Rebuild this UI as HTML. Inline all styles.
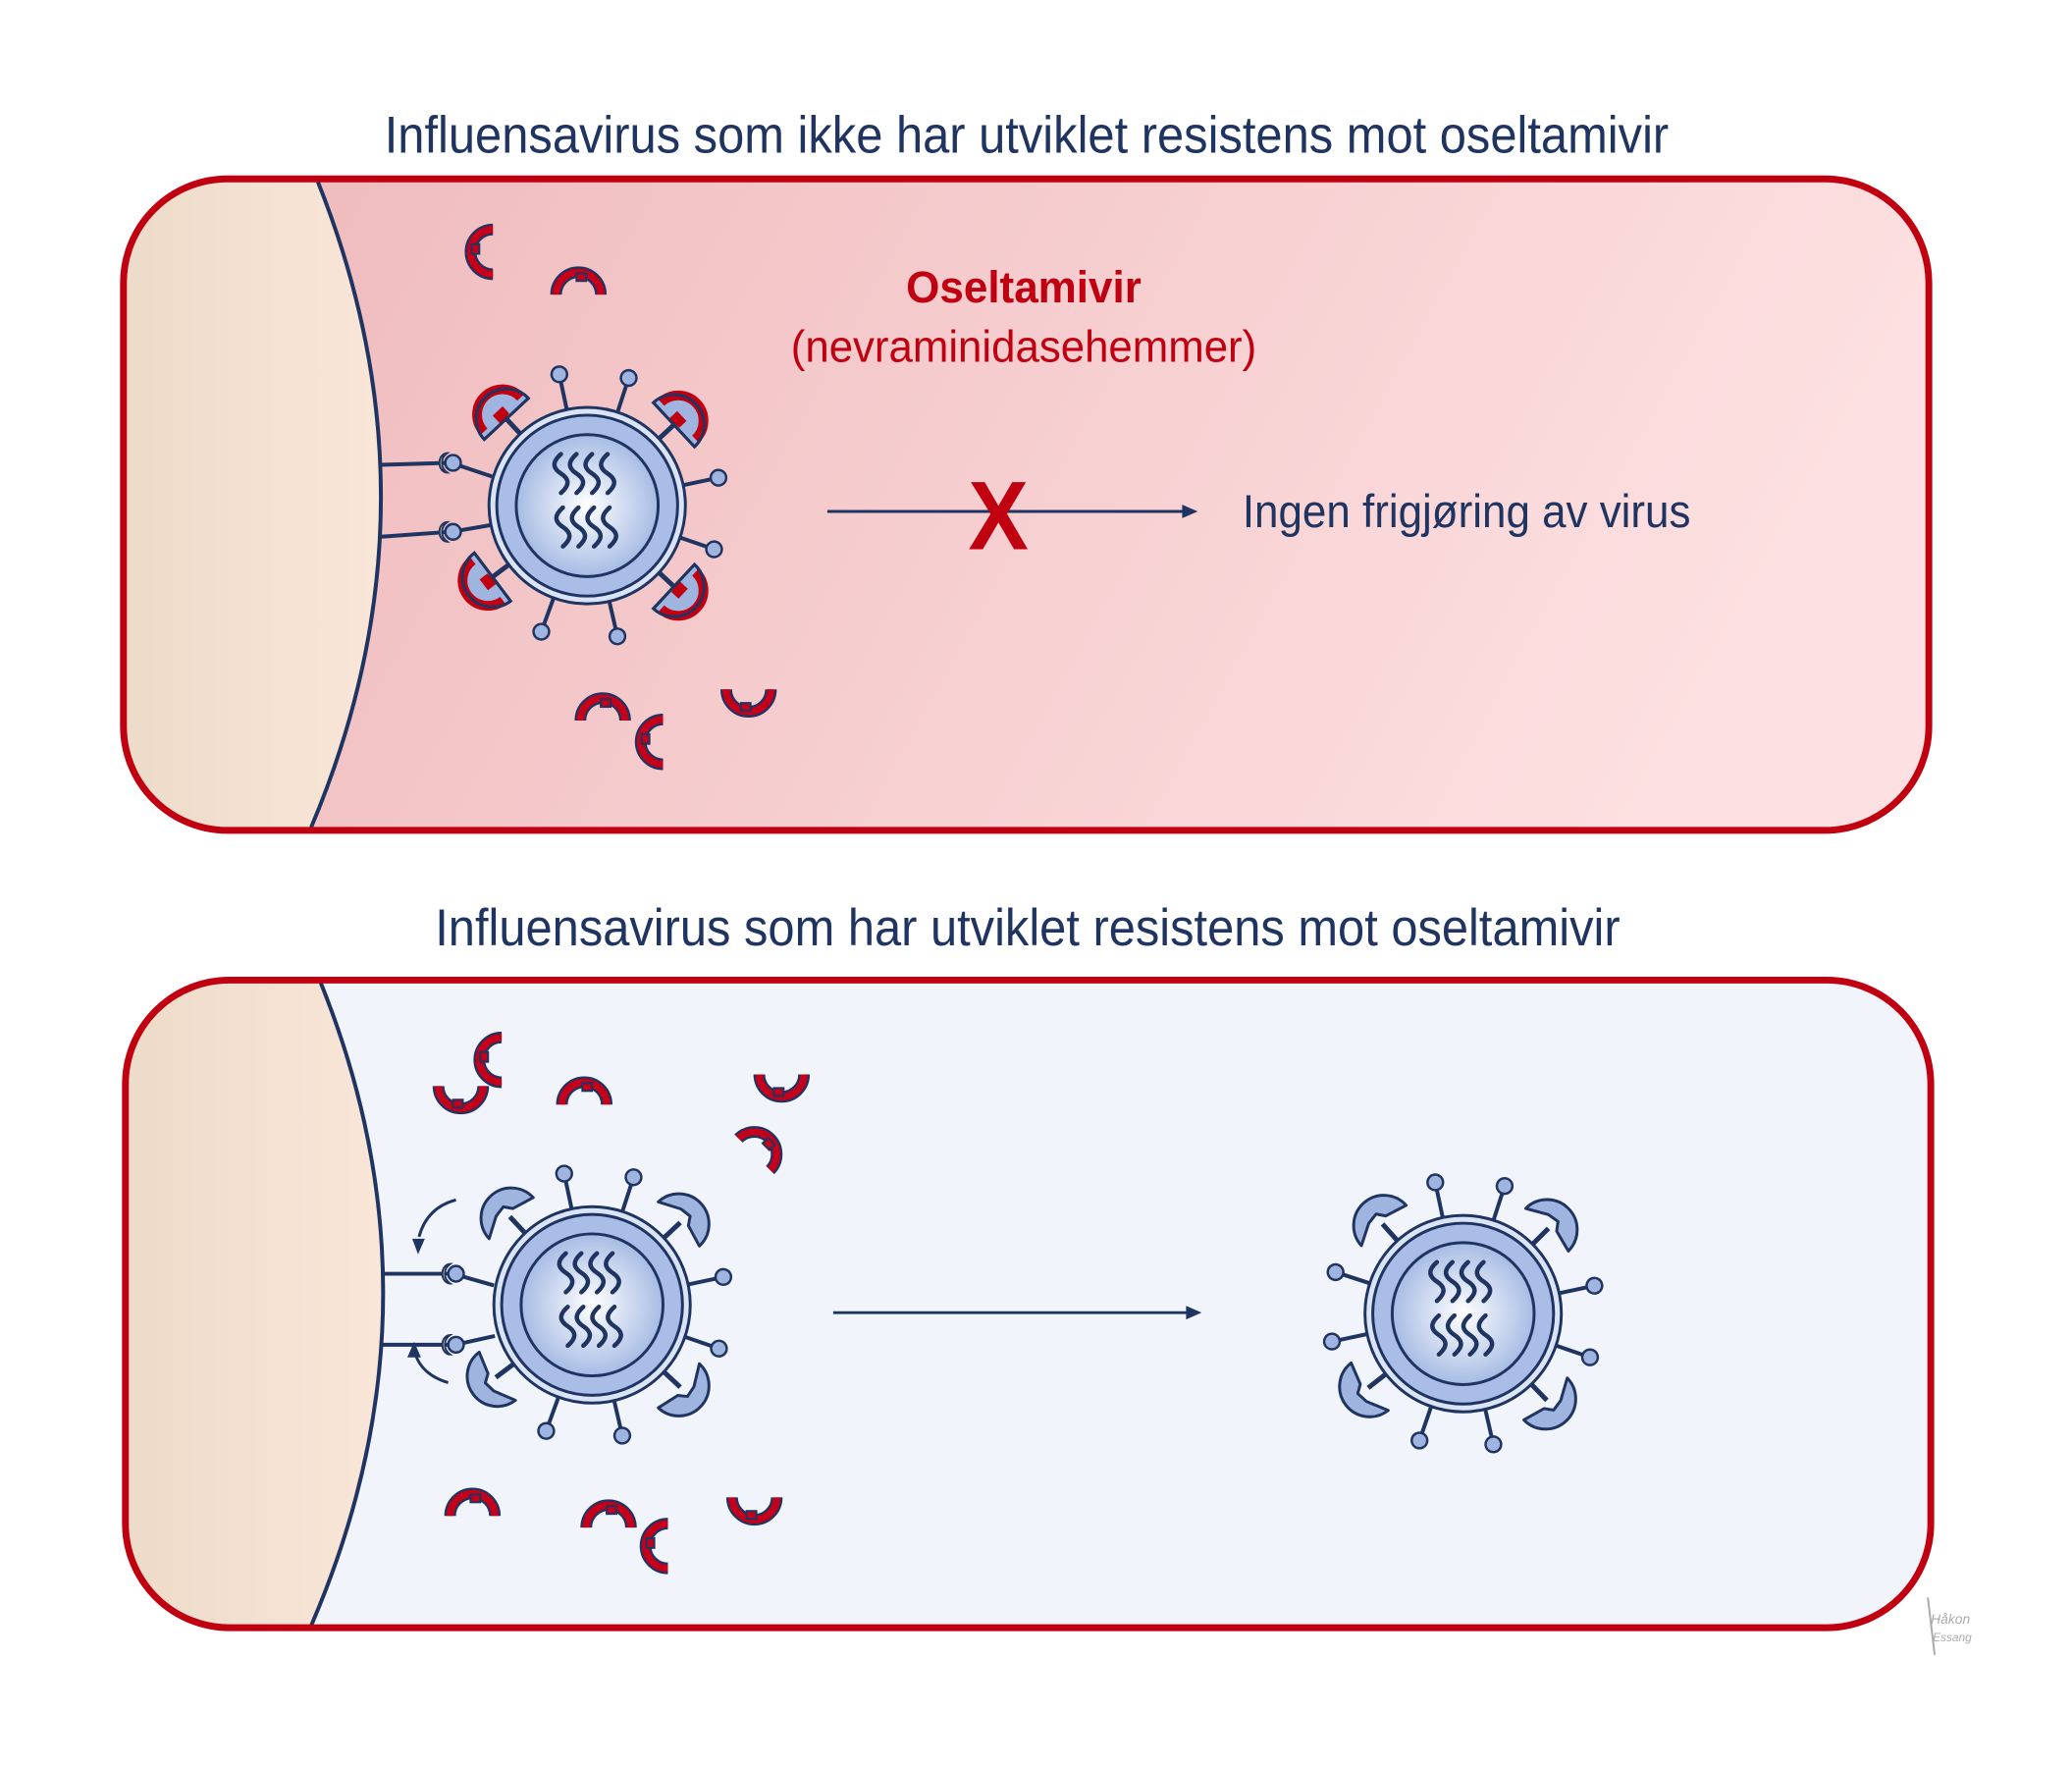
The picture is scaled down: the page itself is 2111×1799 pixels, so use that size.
<!DOCTYPE html>
<html><head><meta charset="utf-8"><style>html,body{margin:0;padding:0;background:#fff}svg{display:block}</style></head>
<body>
<svg width="2111" height="1799" viewBox="0 0 2111 1799" xmlns="http://www.w3.org/2000/svg" font-family="'Liberation Sans Narrow','Liberation Sans',sans-serif">
<defs>
<linearGradient id="gTop" x1="0" y1="0" x2="1" y2="0.2"><stop offset="0" stop-color="#eeb8ba"/><stop offset="1" stop-color="#fde0e1"/></linearGradient>
<linearGradient id="gCell" x1="0" y1="0" x2="1" y2="0"><stop offset="0" stop-color="#ecdac8"/><stop offset="1" stop-color="#f9e6d8"/></linearGradient>
<radialGradient id="gIn"><stop offset="0" stop-color="#ffffff"/><stop offset="1" stop-color="#a7bce4"/></radialGradient>
<clipPath id="c1"><rect x="127" y="184" width="1857" height="670" rx="107"/></clipPath>
<clipPath id="c2"><rect x="129" y="1008" width="1857" height="666" rx="107"/></clipPath>
<g id="core">
<circle r="101" fill="#dbe4f6" stroke="#1f3461" stroke-width="3"/>
<circle r="93" fill="#a9bde6" stroke="#1f3461" stroke-width="3"/>
<circle r="73" fill="url(#gIn)" stroke="#1f3461" stroke-width="3"/>
<g fill="none" stroke="#1f3461" stroke-width="4.5" stroke-linecap="round">
<path id="sq" d="M-27,-53 c-9,8 -9,14 0,20 c9,6 9,12 0,20 "/>
<use href="#sq" x="16"/><use href="#sq" x="32"/><use href="#sq" x="48"/>
<use href="#sq" x="2" y="55"/><use href="#sq" x="18" y="55"/><use href="#sq" x="34" y="55"/><use href="#sq" x="50" y="55"/>
</g>
</g>
<g id="ball"><line x1="100" y1="0" x2="131" y2="0" stroke="#1f3461" stroke-width="4"/><circle cx="138" cy="0" r="8" fill="#9fb5e0" stroke="#1f3461" stroke-width="2.5"/></g>
<g id="mush"><line x1="100" y1="0" x2="124" y2="0" stroke="#1f3461" stroke-width="5"/><path d="M122,-31 A31,31 0 0 1 122,31 L128,8 L136,2 L134,-10 Z" fill="#9fb5e0" stroke="#1f3461" stroke-width="3" stroke-linejoin="round"/></g>
<g id="mushR"><line x1="100" y1="0" x2="124" y2="0" stroke="#1f3461" stroke-width="5"/><path d="M122,-31 A31,31 0 0 1 122,31 Z" fill="#9fb5e0" stroke="#1f3461" stroke-width="3"/><path d="M128,-26 A26,26 0 0 1 128,26" fill="none" stroke="#c00010" stroke-width="10"/><path d="M122,-8 l12,0 l0,14 l-10,0 z" fill="#c00010"/><path d="M122,-31 A31,31 0 0 1 122,31 Z" fill="none" stroke="#1f3461" stroke-width="3"/></g>
<g id="drug"><path d="M3,-23 A23,23 0 1 0 3,23" fill="none" stroke="#1f3461" stroke-width="12"/><path d="M3,-23 A23,23 0 1 0 3,23" fill="none" stroke="#c4001a" stroke-width="7.5"/><rect x="-19" y="-8" width="8" height="10" fill="#c4001a" stroke="#1f3461" stroke-width="2"/></g>
<g id="rec"><circle r="8" fill="#9fb5e0" stroke="#1f3461" stroke-width="2.5"/><path d="M-6,-10 A12,12 0 0 0 -6,10 A8,10 0 0 1 -6,-10Z" fill="#f4e3a8" stroke="#1f3461" stroke-width="2"/></g>
</defs>
<g transform="scale(0.9905)">
<text x="1056" y="157" text-anchor="middle" font-size="53" fill="#1f3461" textLength="1321" lengthAdjust="spacingAndGlyphs">Influensavirus som ikke har utviklet resistens mot oseltamivir</text>
<text x="1057" y="972" text-anchor="middle" font-size="53" fill="#1f3461" textLength="1219" lengthAdjust="spacingAndGlyphs">Influensavirus som har utviklet resistens mot oseltamivir</text>

<rect x="127" y="184" width="1857" height="670" rx="107" fill="url(#gTop)"/>
<g clip-path="url(#c1)"><path d="M100,150 L327,150 L327,187 Q460,520 320,851 L320,880 L100,880Z" fill="url(#gCell)"/>
<path d="M327,187 Q460,520 320,851" fill="none" stroke="#1f3461" stroke-width="4"/></g>
<rect x="127" y="184" width="1857" height="670" rx="107" fill="none" stroke="#c00010" stroke-width="7"/>

<rect x="129" y="1008" width="1857" height="666" rx="107" fill="#f1f5fb"/>
<g clip-path="url(#c2)"><path d="M100,980 L330,980 L330,1011 Q463,1341 320,1672 L320,1700 L100,1700Z" fill="url(#gCell)"/>
<path d="M330,1011 Q463,1341 320,1672" fill="none" stroke="#1f3461" stroke-width="4"/></g>
<rect x="129" y="1008" width="1857" height="666" rx="107" fill="none" stroke="#c00010" stroke-width="7"/>

<text x="1053" y="311" text-anchor="middle" font-size="46" font-weight="bold" fill="#c00010" textLength="242" lengthAdjust="spacingAndGlyphs">Oseltamivir</text>
<text x="1053" y="372" text-anchor="middle" font-size="46" fill="#c00010" textLength="479" lengthAdjust="spacingAndGlyphs">(nevraminidasehemmer)</text>
<line x1="851" y1="526" x2="1220" y2="526" stroke="#1f3461" stroke-width="3"/>
<path d="M1232,526 L1216,519 L1216,533Z" fill="#1f3461"/>
<text x="1027" y="565" text-anchor="middle" font-size="100" font-weight="bold" fill="#c00010" textLength="62" lengthAdjust="spacingAndGlyphs">X</text>
<text x="1278" y="542" font-size="48" fill="#1f3461" textLength="461" lengthAdjust="spacingAndGlyphs">Ingen frigjøring av virus</text>

<line x1="857" y1="1350" x2="1222" y2="1350" stroke="#1f3461" stroke-width="3"/>
<path d="M1236,1350 L1220,1343 L1220,1357Z" fill="#1f3461"/>

<g transform="translate(604,520)">
<line x1="-212" y1="-42" x2="-142" y2="-44" stroke="#1f3461" stroke-width="4"/>
<line x1="-212" y1="32" x2="-142" y2="27" stroke="#1f3461" stroke-width="4"/>
<line x1="-134" y1="-42" x2="-98" y2="-30" stroke="#1f3461" stroke-width="4"/>
<line x1="-134" y1="26" x2="-99" y2="20" stroke="#1f3461" stroke-width="4"/>
<use href="#rec" x="-138" y="-44"/><use href="#rec" x="-138" y="27"/>
<use href="#ball" transform="rotate(-102)"/><use href="#ball" transform="rotate(-72)"/><use href="#ball" transform="rotate(-12)"/><use href="#ball" transform="rotate(19)"/><use href="#ball" transform="rotate(77)"/><use href="#ball" transform="rotate(110)"/>
<use href="#mushR" transform="rotate(-133)"/><use href="#mushR" transform="rotate(-43)"/><use href="#mushR" transform="rotate(43)"/><use href="#mushR" transform="rotate(143)"/>
<use href="#core"/>
</g>

<g transform="translate(609,1342)">
<line x1="-216" y1="-32" x2="-146" y2="-32" stroke="#1f3461" stroke-width="4"/>
<line x1="-216" y1="41" x2="-146" y2="41" stroke="#1f3461" stroke-width="4"/>
<line x1="-136" y1="-30" x2="-101" y2="-20" stroke="#1f3461" stroke-width="4"/>
<line x1="-136" y1="40" x2="-100" y2="32" stroke="#1f3461" stroke-width="4"/>
<use href="#rec" x="-140" y="-32"/><use href="#rec" x="-140" y="41"/>
<use href="#ball" transform="rotate(-102)"/><use href="#ball" transform="rotate(-72)"/><use href="#ball" transform="rotate(-12)"/><use href="#ball" transform="rotate(19)"/><use href="#ball" transform="rotate(77)"/><use href="#ball" transform="rotate(110)"/>
<use href="#mush" transform="rotate(-133)"/><use href="#mush" transform="rotate(-43)"/><use href="#mush" transform="rotate(43)"/><use href="#mush" transform="rotate(143)"/>
<use href="#core"/>
<path d="M-140,-108 Q-170,-100 -178,-70" fill="none" stroke="#1f3461" stroke-width="3"/>
<path d="M-185,-68 L-172,-68 L-179,-52Z" fill="#1f3461"/>
<path d="M-148,80 Q-175,72 -182,50" fill="none" stroke="#1f3461" stroke-width="3"/>
<path d="M-190,54 L-176,54 L-183,38Z" fill="#1f3461"/>
</g>

<g transform="translate(1505,1351)">
<use href="#ball" transform="rotate(-102)"/><use href="#ball" transform="rotate(-72)"/><use href="#ball" transform="rotate(-12)"/><use href="#ball" transform="rotate(19)"/><use href="#ball" transform="rotate(77)"/><use href="#ball" transform="rotate(109)"/><use href="#ball" transform="rotate(198)"/><use href="#ball" transform="rotate(168)"/>
<use href="#mush" transform="rotate(-132)"/><use href="#mush" transform="rotate(-45)"/><use href="#mush" transform="rotate(46)"/><use href="#mush" transform="rotate(142)"/>
<use href="#core"/>
</g>

<use href="#drug" transform="translate(504,259) rotate(0)"/>
<use href="#drug" transform="translate(595,300) rotate(90)"/>
<use href="#drug" transform="translate(620,738) rotate(90)"/>
<use href="#drug" transform="translate(679,763) rotate(0)"/>
<use href="#drug" transform="translate(770,712) rotate(-90)"/>
<use href="#drug" transform="translate(474,1120) rotate(-90)"/>
<use href="#drug" transform="translate(513,1090) rotate(0)"/>
<use href="#drug" transform="translate(601,1133) rotate(90)"/>
<use href="#drug" transform="translate(804,1108) rotate(-90)"/>
<use href="#drug" transform="translate(778,1185) rotate(135)"/>
<use href="#drug" transform="translate(486,1556) rotate(90)"/>
<use href="#drug" transform="translate(626,1568) rotate(90)"/>
<use href="#drug" transform="translate(684,1590) rotate(0)"/>
<use href="#drug" transform="translate(776,1543) rotate(-90)"/>

<g stroke="#aaa" stroke-width="2" fill="none"><line x1="1983" y1="1643" x2="1990" y2="1702"/></g>
<text x="1986" y="1670" font-size="14" fill="#aaa" font-style="italic">Håkon</text>
<text x="1988" y="1688" font-size="12" fill="#aaa" font-style="italic">Essang</text>
</g>
</svg>
</body></html>
